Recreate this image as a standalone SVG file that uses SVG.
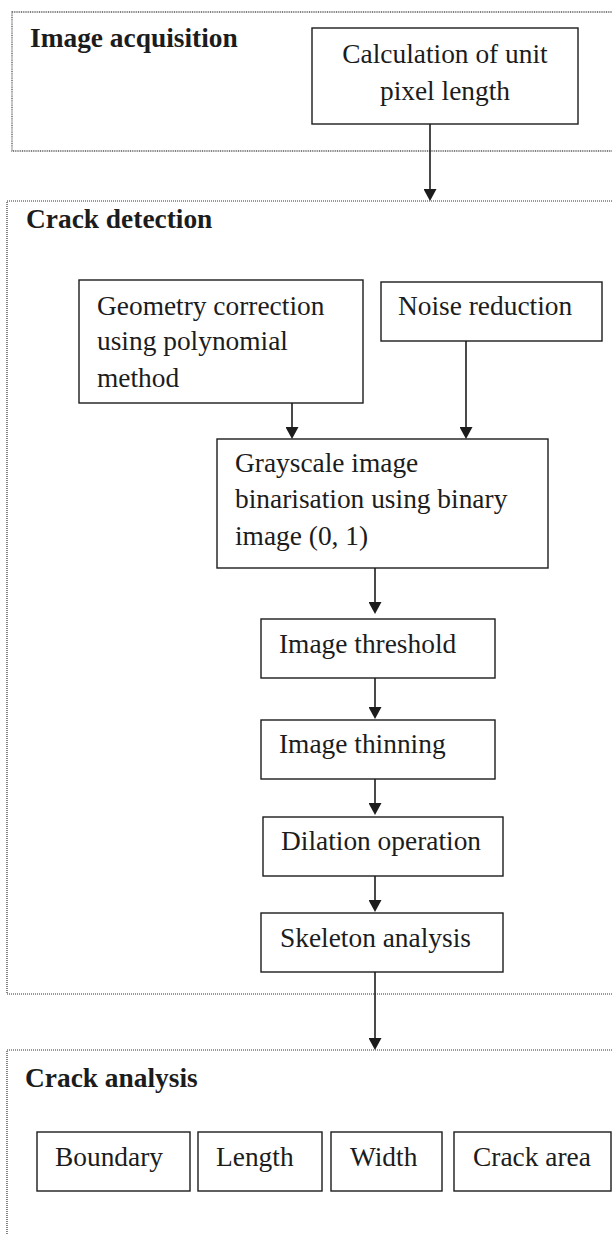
<svg xmlns="http://www.w3.org/2000/svg" width="612" height="1234" viewBox="0 0 612 1234">
  <style>
    .t { font-family: "Liberation Serif", "Times New Roman", serif; font-size: 27.4px; fill: #1c1c1c; }
    .b { font-weight: bold; }
    .box { fill: #ffffff; stroke: #1c1c1c; stroke-width: 1.4; }
    .grp1 { fill: none; stroke: #555; stroke-width: 1.3; stroke-dasharray: 1 0.8; }
    .grp { fill: none; stroke: #333; stroke-width: 1.2; stroke-dasharray: 1 1; }
    .c { stroke: #1c1c1c; stroke-width: 1.6; fill: none; marker-end: url(#ah); }
  </style>
  <defs>
    <marker id="ah" markerUnits="userSpaceOnUse" viewBox="0 0 12 13" markerWidth="12" markerHeight="13" refX="8" refY="6.5" orient="auto">
      <path d="M0,0 L12,6.5 L0,13 z" fill="#1c1c1c"/>
    </marker>
  </defs>
  <rect width="612" height="1234" fill="#ffffff"/>

  <g id="image-acquisition">
    <rect class="grp1" x="12" y="12" width="620" height="139"/>
    <text class="t b" x="30" y="47">Image acquisition</text>
  </g>
  <g id="crack-detection">
    <rect class="grp" x="7" y="201" width="625" height="793"/>
    <text class="t b" x="26" y="228">Crack detection</text>
  </g>
  <g id="crack-analysis">
    <rect class="grp" x="7" y="1050" width="625" height="200"/>
    <text class="t b" x="25" y="1087">Crack analysis</text>
  </g>

  <g id="calc-unit-pixel">
    <rect class="box" x="312" y="28" width="266" height="96"/>
    <text class="t" x="445" y="63" text-anchor="middle">Calculation of unit</text>
    <text class="t" x="445" y="100" text-anchor="middle">pixel length</text>
  </g>
  <g id="geometry-correction">
    <rect class="box" x="79" y="280" width="284" height="123"/>
    <text class="t" x="97" y="315">Geometry correction</text>
    <text class="t" x="97" y="350">using polynomial</text>
    <text class="t" x="97" y="387">method</text>
  </g>
  <g id="noise-reduction">
    <rect class="box" x="381" y="282" width="221" height="59"/>
    <text class="t" x="398" y="315">Noise reduction</text>
  </g>
  <g id="grayscale-binarisation">
    <rect class="box" x="217" y="439" width="331" height="129"/>
    <text class="t" x="235" y="472">Grayscale image</text>
    <text class="t" x="235" y="508">binarisation using binary</text>
    <text class="t" x="235" y="545">image (0, 1)</text>
  </g>
  <g id="image-threshold">
    <rect class="box" x="261" y="619" width="234" height="59"/>
    <text class="t" x="279" y="653">Image threshold</text>
  </g>
  <g id="image-thinning">
    <rect class="box" x="261" y="720" width="234" height="59"/>
    <text class="t" x="279" y="753">Image thinning</text>
  </g>
  <g id="dilation-operation">
    <rect class="box" x="263" y="817" width="240" height="59"/>
    <text class="t" x="281" y="850">Dilation operation</text>
  </g>
  <g id="skeleton-analysis">
    <rect class="box" x="261" y="913" width="242" height="59"/>
    <text class="t" x="280" y="947">Skeleton analysis</text>
  </g>
  <g id="boundary">
    <rect class="box" x="37" y="1132" width="153" height="59"/>
    <text class="t" x="55" y="1166">Boundary</text>
  </g>
  <g id="length">
    <rect class="box" x="198" y="1132" width="124" height="59"/>
    <text class="t" x="216" y="1166">Length</text>
  </g>
  <g id="width">
    <rect class="box" x="331" y="1132" width="111" height="59"/>
    <text class="t" x="350" y="1166">Width</text>
  </g>
  <g id="crack-area">
    <rect class="box" x="454" y="1132" width="157" height="59"/>
    <text class="t" x="473" y="1166">Crack area</text>
  </g>

  <g id="connectors">
    <line class="c" x1="430" y1="124" x2="430" y2="197"/>
    <line class="c" x1="292" y1="403" x2="292" y2="435"/>
    <line class="c" x1="466" y1="341" x2="466" y2="435"/>
    <line class="c" x1="375" y1="568" x2="375" y2="610"/>
    <line class="c" x1="375" y1="678" x2="375" y2="715"/>
    <line class="c" x1="375" y1="779" x2="375" y2="811"/>
    <line class="c" x1="375" y1="876" x2="375" y2="908"/>
    <line class="c" x1="375" y1="972" x2="375" y2="1046"/>
  </g>
</svg>
